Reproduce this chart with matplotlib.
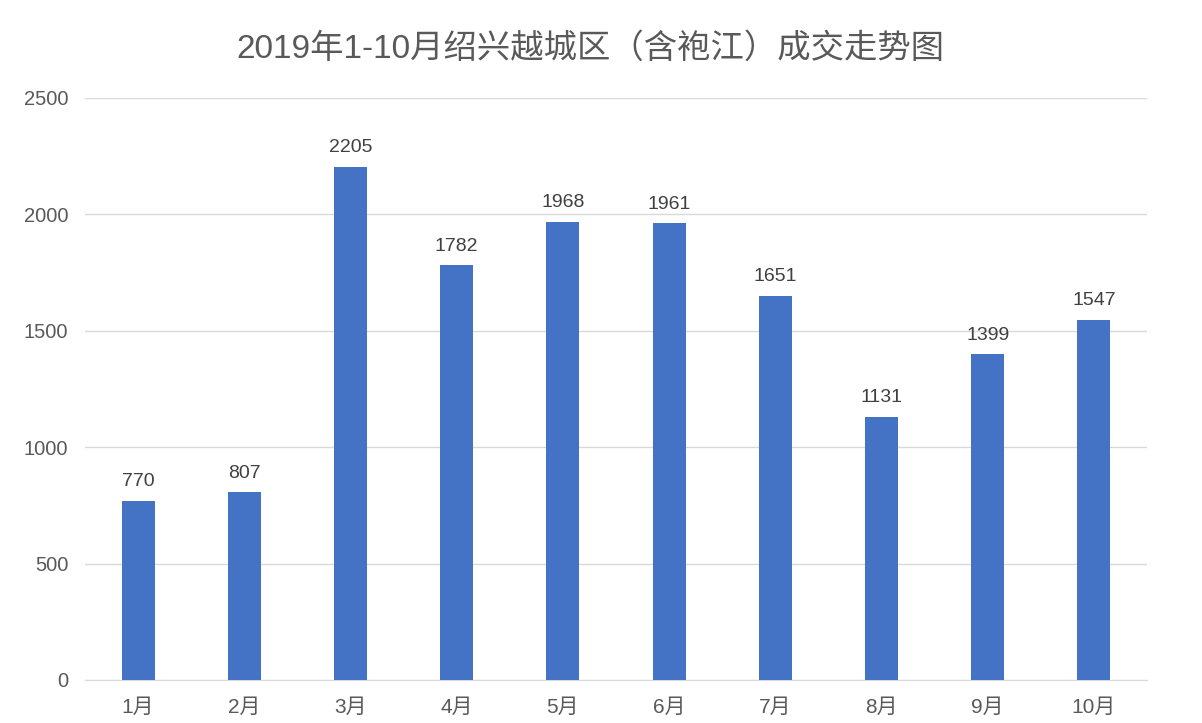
import matplotlib.pyplot as plt
import numpy as np

plt.rcParams['font.family'] = ['Liberation Sans', 'Noto Sans CJK SC', 'DejaVu Sans']

months = ['1月', '2月', '3月', '4月', '5月', '6月', '7月', '8月', '9月', '10月']
deals = [770, 807, 2205, 1782, 1968, 1961, 1651, 1131, 1399, 1547]
title = '2019年1-10月绍兴越城区（含袍江）成交走势图'

fig = plt.figure(figsize=(12.02, 7.23), dpi=100)
ax = fig.add_axes([0.0707, 0.0595, 0.8835, 0.805])

x = np.arange(len(months))
bars = ax.bar(x, deals, width=0.31, color='#4472C4', zorder=3)

for b, v in zip(bars, deals):
    ax.text(b.get_x() + b.get_width() / 2, v + 45, str(v), ha='center', va='bottom',
            fontsize=14, color='#404040')

ax.set_xlim(-0.5, len(months) - 0.5)
ax.set_ylim(0, 2500)
ax.set_yticks(range(0, 2501, 500))
ax.set_xticks(x)
ax.set_xticklabels(months)
ax.yaxis.grid(True, color='#D9D9D9', linewidth=1, zorder=0)
ax.tick_params(axis='both', length=0, labelsize=14.5, labelcolor='#595959')
ax.tick_params(axis='y', pad=12)
ax.tick_params(axis='x', pad=13, labelsize=15)
for s in ['top', 'right', 'left']:
    ax.spines[s].set_visible(False)
ax.spines['bottom'].set_color('#D9D9D9')

fig.text(0.491, 0.933, title, fontsize=24, color='#595959', ha='center', va='center')

fig.savefig('out.png', dpi=100)
